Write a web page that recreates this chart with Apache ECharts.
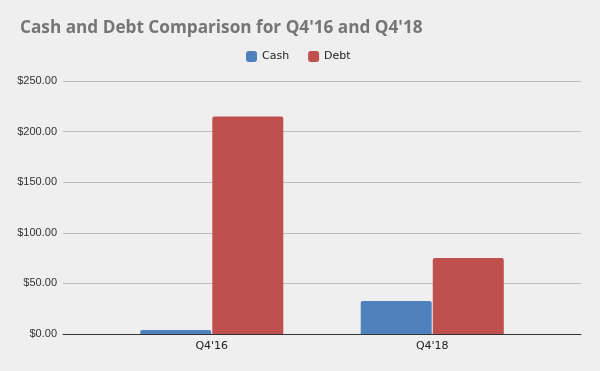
<!DOCTYPE html>
<html><head><meta charset="utf-8">
<script src="https://cdn.jsdelivr.net/npm/echarts@6/dist/echarts.min.js"></script>
<style>html,body{margin:0;padding:0;background:#efefef}#c{width:600px;height:371px}</style>
</head><body><div id="c"></div>
<script>
const categories = ["Q4'16", "Q4'18"];
const cashValues = [4, 32.5];
const debtValues = [215, 75];
const yTicks = [0, 50, 100, 150, 200, 250];

const chart = echarts.init(document.getElementById('c'));
const fmt = v => '$' + v.toFixed(2);
chart.setOption({
  backgroundColor: '#efefef',
  animation: false,
  title: {
    text: "Cash and Debt Comparison for Q4'16 and Q4'18",
    left: 15, top: 15,
    textStyle: {fontFamily: 'Open Sans', fontWeight: 'bold', fontSize: 17.2, color: '#757575'}
  },
  legend: {
    data: ['Cash', 'Debt'],
    left: 241, top: 46,
    itemWidth: 11, itemHeight: 11, itemGap: 19,
    icon: 'roundRect',
    textStyle: {fontFamily: 'DejaVu Sans', fontSize: 11, color: '#222'}
  },
  grid: [
    {left: 63, right: 19, top: 81, bottom: 37},
    {left: 101.5, right: 57.5, top: 81, bottom: 37}
  ],
  xAxis: [
    {type: 'category', gridIndex: 0, data: categories, axisLine: {lineStyle: {color: '#333', width: 1}}, axisTick: {show: false}, axisLabel: {show: false}},
    {type: 'category', gridIndex: 1, data: categories, axisLine: {show: false}, axisTick: {show: false},
     axisLabel: {fontFamily: 'DejaVu Sans', fontSize: 11, color: '#222', margin: 7}}
  ],
  yAxis: [
    {type: 'value', gridIndex: 0, min: yTicks[0], max: yTicks[yTicks.length-1], interval: 50,
     axisLabel: {formatter: fmt, fontFamily: 'Liberation Sans', fontSize: 11, color: '#333', margin: 6},
     splitLine: {lineStyle: {color: '#bdbdbd'}}, axisLine: {show: false}, axisTick: {show: false}},
    {type: 'value', gridIndex: 1, min: yTicks[0], max: yTicks[yTicks.length-1], interval: 50, show: false, splitLine: {show: false}}
  ],
  series: [
    {name: 'Cash', type: 'bar', xAxisIndex: 1, yAxisIndex: 1, data: cashValues, barWidth: 71, barGap: '1.5%',
     itemStyle: {color: '#4f81bd', borderRadius: [2, 2, 0, 0]}},
    {name: 'Debt', type: 'bar', xAxisIndex: 1, yAxisIndex: 1, data: debtValues, barWidth: 71, barGap: '1.5%',
     itemStyle: {color: '#c0504d', borderRadius: [2, 2, 0, 0]}}
  ]
});
</script></body></html>
